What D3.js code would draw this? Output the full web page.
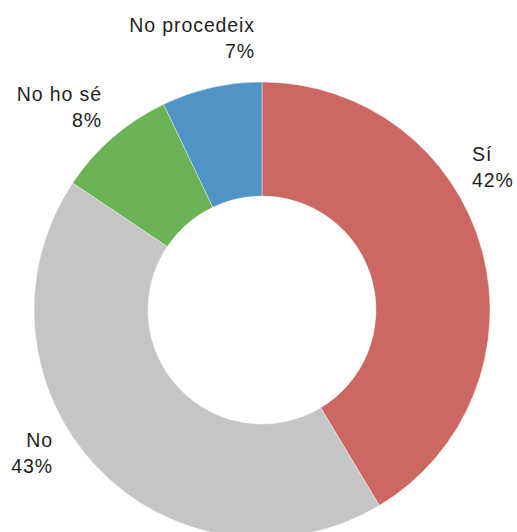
<!DOCTYPE html>
<html><head><meta charset="utf-8">
<script src="https://cdn.jsdelivr.net/npm/d3@7"></script>
<style>html,body{margin:0;padding:0;background:#fff;overflow:hidden}</style>
</head><body>
<script>
const categories = ["Sí", "No", "No ho sé", "No procedeix"];
const values = [41.4, 43.0, 8.5, 7.1];
const pctLabels = ["42%", "43%", "8%", "7%"];
const colors = ["#cb6863", "#c4c5c4", "#6cb257", "#4f93c7"];

const W = 517, H = 532;
const cx = 262, cy = 310, R = 228, r = 114;

const svg = d3.select("body").append("svg").attr("width", W).attr("height", H);
const g = svg.append("g").attr("transform", `translate(${cx},${cy})`);

const pie = d3.pie().sort(null).value(d => d.v);
const data = categories.map((c, i) => ({c, v: values[i], p: pctLabels[i], col: colors[i]}));
const arcs = pie(data);
const arc = d3.arc().innerRadius(r).outerRadius(R);

g.selectAll("path").data(arcs).enter().append("path")
  .attr("d", arc).attr("fill", d => d.data.col)
  .attr("stroke", "#fff").attr("stroke-width", 0.4);

// label anchor layout (x, y of first baseline, anchor)
const labelLayout = [
  {x: 472, y: 161, a: "start"},
  {x: 53, y: 447, a: "end"},
  {x: 102, y: 101, a: "end"},
  {x: 255, y: 32, a: "end"}
];
const lab = svg.selectAll("text.lab").data(arcs).enter().append("text")
  .attr("class", "lab")
  .attr("font-family", "Liberation Sans, Arial, sans-serif")
  .attr("font-size", 19.5).attr("fill", "#1e1e1e")
  .attr("letter-spacing", 0.9)
  .attr("text-anchor", (d, i) => labelLayout[i].a)
  .attr("x", (d, i) => labelLayout[i].x)
  .attr("y", (d, i) => labelLayout[i].y);
lab.append("tspan").text(d => d.data.c);
lab.append("tspan").attr("x", (d, i) => labelLayout[i].x).attr("dy", 25.5).text(d => d.data.p);
</script>
</body></html>
